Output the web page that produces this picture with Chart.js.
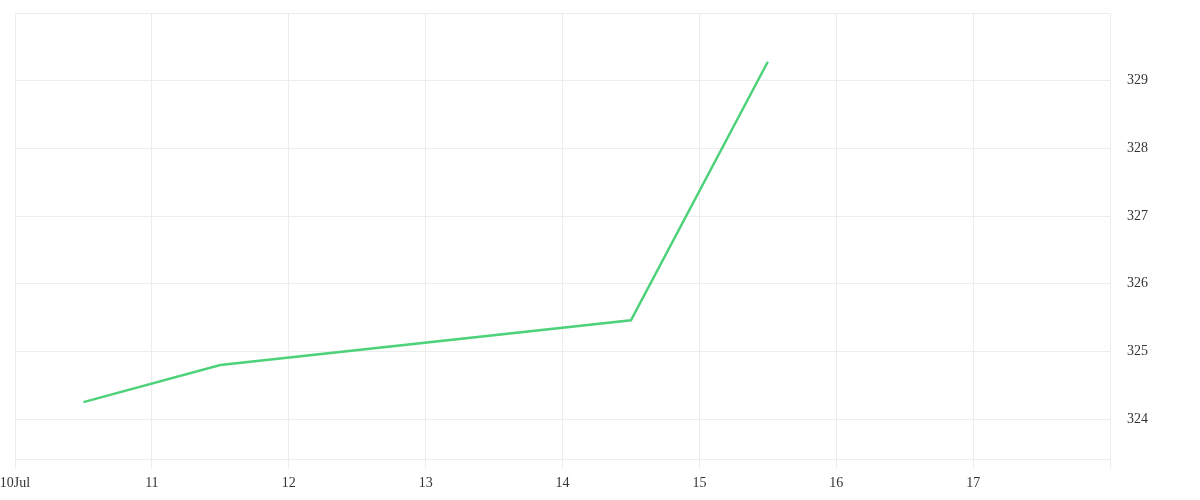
<!DOCTYPE html>
<html>
<head>
<meta charset="utf-8">
<script src="https://cdn.jsdelivr.net/npm/chart.js@4"></script>
<style>
  html, body { margin: 0; padding: 0; background: #fff; }
  #wrap { width: 1200px; height: 500px; }
</style>
</head>
<body>
<div id="wrap"><canvas id="priceChart" width="1200" height="500"></canvas></div>
<script>
// days since 10 Jul
const dayOffsets = [0.5, 1.5, 4.5, 5.5];
const prices = [324.25, 324.8, 325.46, 329.28];
const dayLabels = ['10Jul', '11', '12', '13', '14', '15', '16', '17', ''];
const priceTicks = [324, 325, 326, 327, 328, 329, 330];

const points = dayOffsets.map((d, i) => ({ x: d, y: prices[i] }));
const gridColor = '#ececec';
const font = { family: 'Liberation Serif', size: 14 };

new Chart(document.getElementById('priceChart').getContext('2d'), {
    type: 'line',
    data: {
        datasets: [{
            data: points,
            borderColor: '#4dd27a',
            borderWidth: 2.5,
            pointRadius: 0,
            tension: 0,
            fill: false
        }]
    },
    options: {
        responsive: false,
        animation: false,
        layout: { padding: { left: 15, top: 13 } },
        plugins: { legend: { display: false }, tooltip: { enabled: false } },
        scales: {
            x: {
                type: 'linear',
                min: 0,
                max: 8,
                grid: { color: gridColor, tickLength: 9 },
                border: { color: gridColor },
                afterBuildTicks: axis => { axis.ticks = dayLabels.map((_, i) => ({ value: i })); },
                afterFit: axis => {
                    axis.height = 41;
                    axis.paddingLeft = 0;
                    axis.paddingRight = 0;
                },
                ticks: {
                    color: '#333',
                    font: font,
                    padding: 7,
                    maxRotation: 0,
                    callback: v => dayLabels[v]
                }
            },
            y: {
                position: 'right',
                min: 323.41,
                max: 330,
                grid: { color: gridColor, drawTicks: false },
                border: { display: false },
                afterBuildTicks: axis => { axis.ticks = priceTicks.map(v => ({ value: v })); },
                afterFit: axis => {
                    axis.width = 90;
                    axis.paddingTop = 0;
                    axis.paddingBottom = 0;
                },
                ticks: {
                    color: '#333',
                    font: font,
                    padding: 17,
                    callback: v => v === 330 ? '' : String(v)
                }
            }
        }
    }
});
</script>
</body>
</html>
